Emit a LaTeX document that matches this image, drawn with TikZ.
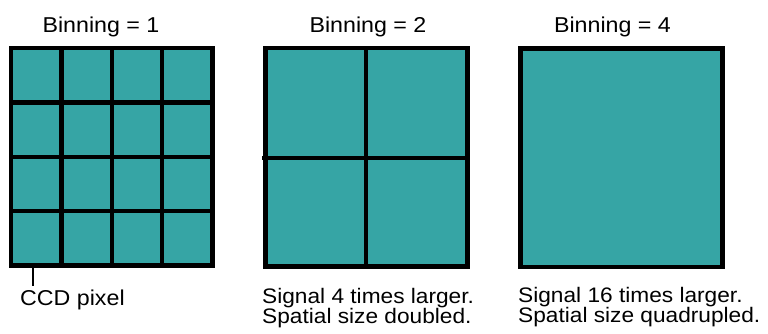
\documentclass[tikz,border=0pt]{standalone}
\usepackage{fontspec}
\setmainfont{Liberation Sans}[FakeStretch=1.08]
\definecolor{ccdteal}{RGB}{54,165,165}
\begin{document}
\begin{tikzpicture}[x=1pt,y=-1pt,
  cell/.style={fill=ccdteal,draw=black,line width=4.5pt,line join=miter},
  gridline/.style={draw=black,line width=4.5pt},
  title/.style={anchor=base,inner sep=0pt,font=\fontsize{21.5}{20}\selectfont},
  caption/.style={anchor=base west,inner sep=0pt,align=left,font=\fontsize{21}{20}\selectfont}]
\useasboundingbox (0,0) rectangle (768,333);
% Binning = 1
\path[cell] (11,48) rectangle (212.5,265.5);
\foreach \x in {61.4,111.75,162.1} \draw[gridline] (\x,48) -- (\x,265.5);
\foreach \y in {102.4,156.75,211.1} \draw[gridline] (11,\y) -- (212.5,\y);
% Binning = 2
\path[cell] (265.5,48) rectangle (467.5,266.5);
\draw[gridline,line width=4pt] (366.4,48) -- (366.4,266.5);
\draw[gridline,line width=4pt] (262,157.5) -- (467.5,157.5);
% Binning = 4
\path[cell] (520.5,48.5) rectangle (722.5,267);
% titles
\node[title] (t1) at (101,32) {Binning = 1};
\node[title] (t2) at (368,32) {Binning = 2};
\node[title] (t3) at (612.5,32) {Binning = 4};
% captions
\coordinate (px) at (33,263);
\node[caption,font=\fontsize{21.5}{20}\selectfont] (c1) at (20,305) {CCD pixel};
\draw[line width=2pt] (px) -- (33,286);
\node[caption] (c2) at (262,323) {Signal 4 times larger.\\Spatial size doubled.};
\node[caption] (c3) at (518,322.5) {Signal 16 times larger.\\Spatial size quadrupled.};
\end{tikzpicture}
\end{document}
